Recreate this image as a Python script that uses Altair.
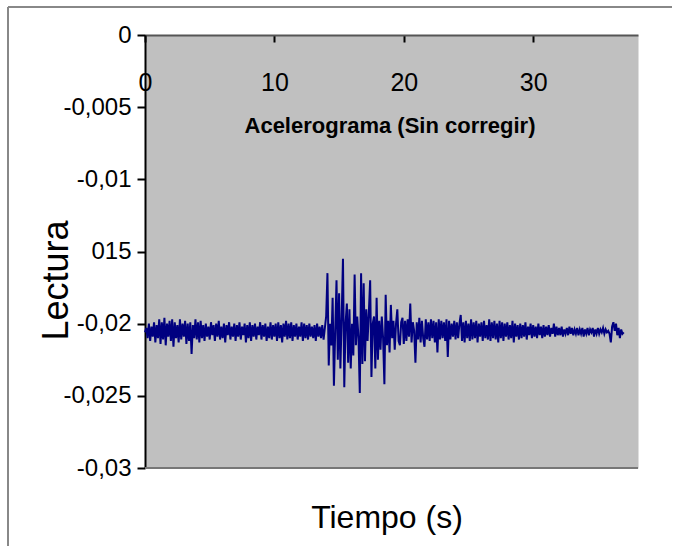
import altair as alt
import pandas as pd

# ---- data (reading values, one row = 1 s, step 0.1 s) ----
readings = [
    -0.0206, -0.0203, -0.0210, -0.0200, -0.0212, -0.0202, -0.0209, -0.0199, -0.0213, -0.0201,
    -0.0210, -0.0197, -0.0214, -0.0199, -0.0211, -0.0196, -0.0215, -0.0200, -0.0209, -0.0198,
    -0.0212, -0.0197, -0.0216, -0.0199, -0.0210, -0.0201, -0.0213, -0.0197, -0.0211, -0.0200,
    -0.0209, -0.0198, -0.0214, -0.0200, -0.0212, -0.0199, -0.0221, -0.0201, -0.0210, -0.0197,
    -0.0211, -0.0199, -0.0213, -0.0198, -0.0210, -0.0201, -0.0212, -0.0200, -0.0209, -0.0202,
    -0.0211, -0.0199, -0.0208, -0.0201, -0.0212, -0.0200, -0.0209, -0.0198, -0.0211, -0.0202,
    -0.0210, -0.0200, -0.0213, -0.0201, -0.0208, -0.0199, -0.0211, -0.0202, -0.0209, -0.0200,
    -0.0212, -0.0201, -0.0209, -0.0199, -0.0211, -0.0202, -0.0208, -0.0200, -0.0213, -0.0201,
    -0.0210, -0.0199, -0.0212, -0.0201, -0.0209, -0.0200, -0.0211, -0.0202, -0.0208, -0.0199,
    -0.0211, -0.0201, -0.0209, -0.0200, -0.0212, -0.0202, -0.0210, -0.0199, -0.0211, -0.0201,
    -0.0209, -0.0200, -0.0212, -0.0199, -0.0210, -0.0201, -0.0213, -0.0200, -0.0209, -0.0198,
    -0.0211, -0.0200, -0.0210, -0.0199, -0.0212, -0.0201, -0.0209, -0.0200, -0.0211, -0.0202,
    -0.0209, -0.0199, -0.0212, -0.0200, -0.0210, -0.0201, -0.0211, -0.0200, -0.0209, -0.0202,
    -0.0210, -0.0201, -0.0212, -0.0200, -0.0209, -0.0202, -0.0210, -0.0201, -0.0211, -0.0203,
    -0.0195, -0.0165, -0.0229, -0.0200, -0.0215, -0.0182, -0.0243, -0.0205, -0.0170, -0.0225,
    -0.0179, -0.0231, -0.0195, -0.0155, -0.0244, -0.0200, -0.0186, -0.0227, -0.0190, -0.0231,
    -0.0200, -0.0222, -0.0166, -0.0215, -0.0195, -0.0210, -0.0248, -0.0165, -0.0228, -0.0172,
    -0.0226, -0.0190, -0.0212, -0.0192, -0.0170, -0.0237, -0.0200, -0.0195, -0.0231, -0.0182,
    -0.0225, -0.0198, -0.0218, -0.0195, -0.0210, -0.0242, -0.0180, -0.0215, -0.0198, -0.0220,
    -0.0187, -0.0210, -0.0198, -0.0218, -0.0200, -0.0190, -0.0212, -0.0215, -0.0199, -0.0196,
    -0.0214, -0.0198, -0.0212, -0.0197, -0.0209, -0.0186, -0.0213, -0.0199, -0.0205, -0.0227,
    -0.0199, -0.0211, -0.0196, -0.0213, -0.0198, -0.0210, -0.0216, -0.0197, -0.0211, -0.0199,
    -0.0212, -0.0197, -0.0210, -0.0198, -0.0213, -0.0199, -0.0220, -0.0197, -0.0211, -0.0198,
    -0.0210, -0.0199, -0.0212, -0.0197, -0.0223, -0.0198, -0.0211, -0.0200, -0.0209, -0.0198,
    -0.0211, -0.0199, -0.0210, -0.0200, -0.0194, -0.0212, -0.0199, -0.0213, -0.0198, -0.0210,
    -0.0200, -0.0212, -0.0197, -0.0211, -0.0199, -0.0210, -0.0198, -0.0213, -0.0200, -0.0209,
    -0.0199, -0.0212, -0.0198, -0.0210, -0.0201, -0.0211, -0.0197, -0.0212, -0.0199, -0.0210,
    -0.0198, -0.0211, -0.0200, -0.0213, -0.0198, -0.0210, -0.0199, -0.0212, -0.0200, -0.0209,
    -0.0199, -0.0211, -0.0201, -0.0210, -0.0198, -0.0213, -0.0200, -0.0209, -0.0201, -0.0211,
    -0.0200, -0.0210, -0.0201, -0.0209, -0.0199, -0.0211, -0.0202, -0.0208, -0.0200, -0.0210,
    -0.0201, -0.0209, -0.0202, -0.0210, -0.0200, -0.0208, -0.0202, -0.0210, -0.0201, -0.0209,
    -0.0202, -0.0208, -0.0201, -0.0209, -0.0203, -0.0207, -0.0200, -0.0209, -0.0202, -0.0208,
    -0.0203, -0.0208, -0.0202, -0.0209, -0.0204, -0.0207, -0.0203, -0.0208, -0.0202, -0.0207,
    -0.0203, -0.0208, -0.0204, -0.0207, -0.0203, -0.0208, -0.0204, -0.0207, -0.0203, -0.0209,
    -0.0204, -0.0207, -0.0203, -0.0208, -0.0204, -0.0206, -0.0203, -0.0209, -0.0204, -0.0207,
    -0.0203, -0.0207, -0.0204, -0.0206, -0.0203, -0.0207, -0.0204, -0.0206, -0.0205, -0.0207,
    -0.0213, -0.0202, -0.0199, -0.0205, -0.0200, -0.0208, -0.0203, -0.0210, -0.0204, -0.0207,
    -0.0206,
]
sample_step = 0.1  # seconds between readings
times = [round(i * sample_step, 1) for i in range(len(readings))]

x_ticks = [0, 10, 20, 30]
y_ticks = [0, -0.005, -0.01, -0.015, -0.02, -0.025, -0.03]
y_labels = ["0", "-0,005", "-0,01", "015", "-0,02", "-0,025", "-0,03"]
x_domain = [0, 38.1]
y_domain = [-0.03, 0]

title_text = "Acelerograma (Sin corregir)"
x_title = "Tiempo (s)"
y_title = "Lectura"

df = pd.DataFrame({"t": times, "v": readings})

W, H = 493, 433
SANS = "Liberation Sans, Arial, sans-serif"

label_expr = "[" + ",".join("'" + s + "'" for s in y_labels) + "][round(-datum.value/0.005)]"

x_scale = alt.Scale(domain=x_domain, nice=False, zero=False)
y_scale = alt.Scale(domain=y_domain, nice=False, zero=False)

line = alt.Chart(df).mark_line(color="#000080", strokeWidth=2).encode(
    x=alt.X("t:Q", scale=x_scale,
            axis=alt.Axis(orient="bottom", offset=-H, values=x_ticks, grid=False,
                          domainColor="#555555", domainWidth=2,
                          tickColor="#000000", tickSize=7, tickWidth=2,
                          labelFont=SANS, labelFontSize=25, labelColor="#000000",
                          labelBaseline="alphabetic", labelPadding=48, labelFlush=False,
                          title=x_title, titleFont=SANS, titleFontSize=32,
                          titleFontWeight="normal", titleColor="#000000",
                          titleX=W / 2 - 5, titleY=492, titleBaseline="alphabetic",
                          titleAlign="center")),
    y=alt.Y("v:Q", scale=y_scale,
            axis=alt.Axis(values=y_ticks, grid=False, labelExpr=label_expr,
                          domainColor="#000000", domainWidth=2,
                          tickColor="#000000", tickSize=8, tickWidth=2,
                          labelFont=SANS, labelFontSize=24, labelColor="#000000",
                          labelPadding=6, labelBaseline="middle",
                          title=y_title, titleFont=SANS, titleFontSize=36,
                          titleFontWeight="normal", titleColor="#000000",
                          titleAngle=270, titleX=-78, titleY=245,
                          titleBaseline="alphabetic", titleAlign="center")),
)

bottom_rule = alt.Chart(pd.DataFrame({"a": [0]})).mark_rule(
    color="#777777", strokeWidth=2).encode(
    x=alt.datum(x_domain[0]), x2=alt.datum(x_domain[1]), y=alt.datum(y_domain[0]))

title_mark = alt.Chart(pd.DataFrame({"label": [title_text]})).mark_text(
    font=SANS, fontSize=22, fontWeight="bold", color="#000000",
    align="center", baseline="alphabetic").encode(
    text="label:N", x=alt.value(245), y=alt.value(98))

frame_top = alt.Chart(pd.DataFrame({"a": [0]})).mark_rule(
    color="#888888", strokeWidth=2).encode(
    x=alt.value(-137), x2=alt.value(W + 200), y=alt.value(-28))
frame_left = alt.Chart(pd.DataFrame({"a": [0]})).mark_rule(
    color="#888888", strokeWidth=2).encode(
    x=alt.value(-137), y=alt.value(-28), y2=alt.value(H + 200))

chart = alt.layer(bottom_rule, line, title_mark, frame_top, frame_left).properties(
    width=W, height=H,
    autosize=alt.AutoSizeParams(type="none"),
    padding={"left": 145, "top": 35, "right": 34, "bottom": 78},
    background="#ffffff",
).configure_view(fill="#C0C0C0", stroke="transparent")

chart.save("out.html", embed_options={"renderer": "svg", "actions": False})
